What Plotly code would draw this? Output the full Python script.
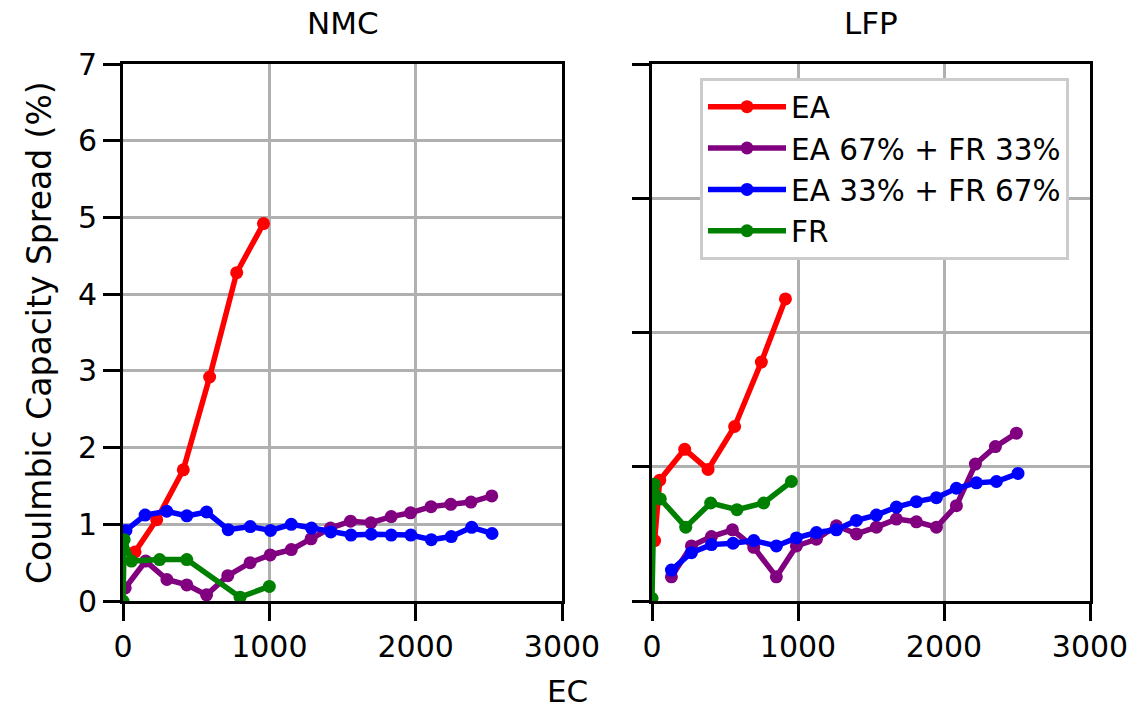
import plotly.graph_objects as go

W, H = 1144, 717

series_names = ["EA", "EA 67% + FR 33%", "EA 33% + FR 67%", "FR"]
series_colors = ["#ff0000", "#800080", "#0000ff", "#008000"]

# NMC panel
nmc_ea_x = [82, 230, 412, 592, 777, 960]
nmc_ea_y = [0.64, 1.06, 1.71, 2.92, 4.28, 4.92]
nmc_67_x = [15, 155, 300, 436, 571, 716, 869, 1006, 1150, 1285, 1418, 1555, 1694, 1833, 1965, 2105, 2240, 2378, 2520]
nmc_67_y = [0.17, 0.52, 0.28, 0.21, 0.08, 0.33, 0.50, 0.60, 0.67, 0.81, 0.95, 1.04, 1.02, 1.10, 1.15, 1.23, 1.26, 1.29, 1.37]
nmc_33_x = [20, 151, 299, 436, 571, 719, 870, 1008, 1150, 1288, 1420, 1558, 1696, 1833, 1967, 2107, 2243, 2383, 2522]
nmc_33_y = [0.92, 1.12, 1.17, 1.11, 1.16, 0.93, 0.97, 0.92, 1.00, 0.95, 0.90, 0.86, 0.87, 0.86, 0.86, 0.80, 0.84, 0.96, 0.88]
nmc_fr_x = [0, 8, 58, 250, 436, 800, 1000]
nmc_fr_y = [0.0, 0.80, 0.52, 0.54, 0.54, 0.05, 0.19]

# LFP panel
lfp_ea_x = [18, 53, 224, 384, 566, 749, 914]
lfp_ea_y = [0.45, 0.90, 1.13, 0.98, 1.30, 1.78, 2.25]
lfp_67_x = [133, 270, 407, 551, 697, 852, 989, 1126, 1263, 1400, 1537, 1674, 1811, 1948, 2085, 2215, 2352, 2496]
lfp_67_y = [0.18, 0.41, 0.48, 0.53, 0.40, 0.18, 0.41, 0.46, 0.56, 0.50, 0.55, 0.61, 0.59, 0.55, 0.71, 1.02, 1.15, 1.25]
lfp_33_x = [133, 270, 407, 555, 697, 852, 989, 1126, 1263, 1400, 1537, 1674, 1811, 1948, 2085, 2222, 2359, 2507]
lfp_33_y = [0.23, 0.36, 0.42, 0.43, 0.45, 0.41, 0.47, 0.51, 0.53, 0.60, 0.64, 0.70, 0.74, 0.77, 0.84, 0.88, 0.89, 0.95]
lfp_fr_x = [0, 15, 57, 231, 402, 582, 765, 955]
lfp_fr_y = [0.02, 0.87, 0.76, 0.55, 0.73, 0.68, 0.73, 0.89]

x_ticks = [0, 1000, 2000, 3000]
x_ticklabels = ["0", "1000", "2000", "3000"]
y_ticks_left = [0, 1, 2, 3, 4, 5, 6, 7]
y_ticks_right = [0, 1, 2, 3, 4]

nmc = [(nmc_ea_x, nmc_ea_y), (nmc_67_x, nmc_67_y), (nmc_33_x, nmc_33_y), (nmc_fr_x, nmc_fr_y)]
lfp = [(lfp_ea_x, lfp_ea_y), (lfp_67_x, lfp_67_y), (lfp_33_x, lfp_33_y), (lfp_fr_x, lfp_fr_y)]

fig = go.Figure()
for i, (xs, ys) in enumerate(nmc):
    fig.add_trace(go.Scatter(x=xs, y=ys, mode="lines+markers", name=series_names[i],
                             line=dict(color=series_colors[i], width=5.5),
                             marker=dict(color=series_colors[i], size=13),
                             xaxis="x", yaxis="y", showlegend=False))
for i, (xs, ys) in enumerate(lfp):
    fig.add_trace(go.Scatter(x=xs, y=ys, mode="lines+markers", name=series_names[i],
                             line=dict(color=series_colors[i], width=5.5),
                             marker=dict(color=series_colors[i], size=13),
                             xaxis="x2", yaxis="y2", showlegend=True))

FAM = "DejaVu Sans"
tickfont = dict(family=FAM, size=30, color="black")
axis_common = dict(showline=True, linecolor="black", linewidth=3, mirror=True,
                   ticks="outside", ticklen=17, tickwidth=3, tickcolor="black",
                   showgrid=True, gridcolor="#b0b0b0", gridwidth=3, zeroline=False,
                   tickfont=tickfont, automargin=False, ticklabelstandoff=0)

xl0, xl1 = 123 / W, 562 / W
xr0, xr1 = 652 / W, 1090 / W
yb, yt = 1 - 601 / H, 1 - 64 / H

fig.update_layout(
    template="none",
    width=W, height=H,
    margin=dict(l=0, r=0, t=0, b=0, pad=0, autoexpand=False),
    paper_bgcolor="white", plot_bgcolor="white",
    font=dict(family=FAM, size=30, color="black"),
    xaxis=dict(domain=[xl0, xl1], range=[0, 3000], tickvals=x_ticks, ticktext=x_ticklabels, anchor="y", **axis_common),
    yaxis=dict(domain=[yb, yt], range=[0, 7], tickvals=y_ticks_left, anchor="x", **axis_common),
    xaxis2=dict(domain=[xr0, xr1], range=[0, 3000], tickvals=x_ticks, ticktext=x_ticklabels, anchor="y2", **axis_common),
    yaxis2=dict(domain=[yb, yt], range=[0, 4], tickvals=y_ticks_right, showticklabels=False, anchor="x2", **axis_common),
    legend=dict(x=700 / W, y=1 - 78 / H, xanchor="left", yanchor="top",
                bgcolor="white", bordercolor="#cccccc", borderwidth=3,
                font=dict(family=FAM, size=29.5, color="black"),
                tracegroupgap=0, itemwidth=78),
    annotations=[
        dict(text="NMC", x=(xl0 + xl1) / 2, y=1 - 23 / H, xref="paper", yref="paper",
             showarrow=False, font=dict(family=FAM, size=31), xanchor="center", yanchor="middle"),
        dict(text="LFP", x=(xr0 + xr1) / 2, y=1 - 23 / H, xref="paper", yref="paper",
             showarrow=False, font=dict(family=FAM, size=31), xanchor="center", yanchor="middle"),
        dict(text="EC", x=567 / W, y=1 - 691 / H, xref="paper", yref="paper",
             showarrow=False, font=dict(family=FAM, size=31), xanchor="center", yanchor="middle"),
        dict(text="Coulmbic Capacity Spread (%)", x=40 / W, y=1 - 333 / H, xref="paper", yref="paper",
             showarrow=False, textangle=-90, font=dict(family=FAM, size=33),
             xanchor="center", yanchor="middle"),
    ],
)

fig.write_html("out.html")
